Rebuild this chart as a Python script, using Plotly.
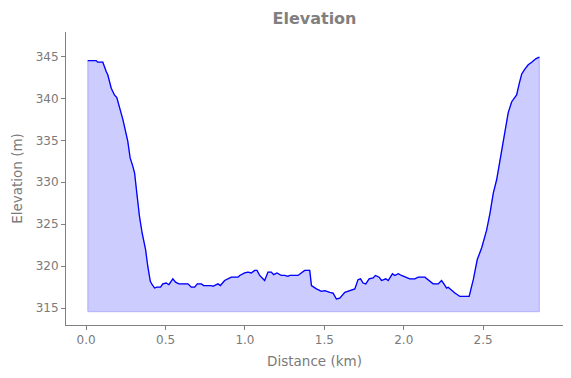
import plotly.graph_objects as go

# Distance along the route (km) and elevation (m)
distance_km = [
    0.010, 0.063, 0.073, 0.105, 0.126, 0.136, 0.158, 0.178, 0.193, 0.210,
    0.231, 0.262, 0.277, 0.294, 0.305, 0.319, 0.336, 0.353, 0.374, 0.388,
    0.404, 0.416, 0.431, 0.445, 0.468, 0.483, 0.504, 0.521, 0.546, 0.563,
    0.584, 0.641, 0.662, 0.683, 0.700, 0.725, 0.740, 0.788, 0.798, 0.830,
    0.845, 0.872, 0.914, 0.956, 0.967, 0.998, 1.019, 1.040, 1.061, 1.076,
    1.093, 1.124, 1.145, 1.166, 1.181, 1.202, 1.229, 1.250, 1.271, 1.282,
    1.334, 1.376, 1.408, 1.419, 1.450, 1.482, 1.503, 1.534, 1.555, 1.576,
    1.597, 1.629, 1.660, 1.692, 1.712, 1.728, 1.744, 1.761, 1.782, 1.807,
    1.822, 1.845, 1.860, 1.887, 1.902, 1.929, 1.944, 1.965, 1.986, 2.038,
    2.070, 2.091, 2.133, 2.154, 2.185, 2.217, 2.238, 2.253, 2.270, 2.280,
    2.301, 2.322, 2.354, 2.412, 2.438, 2.463, 2.491, 2.522, 2.543, 2.564,
    2.585, 2.617, 2.638, 2.658, 2.680, 2.711, 2.728, 2.743, 2.764, 2.784,
    2.806, 2.831, 2.854,
]
elevation_m = [
    344.5, 344.5, 344.3, 344.3, 343.2, 342.8, 341.2, 340.4, 340.1, 339.0,
    337.5, 334.9, 332.9, 331.9, 331.1, 328.7, 325.9, 323.9, 322.0, 320.0,
    318.2, 317.8, 317.4, 317.5, 317.5, 317.9, 318.0, 317.8, 318.5, 318.1,
    317.9, 317.9, 317.5, 317.5, 317.9, 317.9, 317.7, 317.7, 317.6, 317.9,
    317.7, 318.3, 318.7, 318.7, 318.9, 319.2, 319.3, 319.2, 319.5, 319.5,
    318.9, 318.3, 319.3, 319.3, 319.0, 319.2, 318.9, 318.9, 318.8, 318.9,
    318.9, 319.5, 319.5, 317.7, 317.3, 317.0, 317.1, 316.9, 316.8, 316.1,
    316.2, 316.9, 317.1, 317.3, 318.4, 318.5, 318.0, 317.9, 318.5, 318.6,
    318.9, 318.7, 318.3, 318.5, 318.3, 319.1, 318.9, 319.1, 318.9, 318.5,
    318.5, 318.7, 318.7, 318.4, 317.9, 317.9, 318.3, 317.9, 317.4, 317.5,
    317.1, 316.8, 316.4, 316.4, 318.4, 320.8, 322.2, 324.3, 326.3, 328.7,
    330.3, 333.9, 336.3, 338.3, 339.6, 340.4, 341.8, 342.9, 343.5, 344.0,
    344.3, 344.7, 344.9,
]
fill_base_m = 314.6

x_ticks = [0.0, 0.5, 1.0, 1.5, 2.0, 2.5]
y_ticks = [315, 320, 325, 330, 335, 340, 345]

GRAY = "#808080"
TEXT = "#7a7a7a"

fig = go.Figure()

# filled area polygon (line -> baseline)
poly_x = [distance_km[0]] + distance_km + [distance_km[-1], distance_km[0]]
poly_y = [fill_base_m] + elevation_m + [fill_base_m, fill_base_m]
fig.add_trace(go.Scatter(
    x=poly_x, y=poly_y, mode="lines", fill="toself",
    fillcolor="rgba(0,0,255,0.2)",
    line=dict(color="rgba(0,0,255,0.2)", width=1.2),
    hoverinfo="skip", showlegend=False,
))
fig.add_trace(go.Scatter(
    x=distance_km, y=elevation_m, mode="lines",
    line=dict(color="#0000ff", width=1.3),
    showlegend=False,
))

fig.update_layout(
    width=571, height=378,
    margin=dict(l=66, r=8, t=32, b=53),
    paper_bgcolor="white", plot_bgcolor="white",
    font=dict(family="DejaVu Sans", color=TEXT, size=12),
    title=dict(text="<b>Elevation</b>", x=0.5, xref="paper", xanchor="center",
               y=1 - 18 / 378, yref="container", yanchor="middle",
               font=dict(family="DejaVu Sans", size=16, color=GRAY)),
)
fig.update_xaxes(
    range=[-0.127, 3.003], tickvals=x_ticks,
    ticktext=[f"{v:.1f}" for v in x_ticks], automargin=False,
    showgrid=False, zeroline=False, showline=True, linecolor=GRAY, linewidth=1,
    ticks="outside", ticklen=4, tickcolor=GRAY, tickfont=dict(size=12, color=TEXT),
    title=dict(text="Distance (km)", font=dict(size=13.5, color=TEXT), standoff=10),
)
fig.update_yaxes(
    range=[313.0, 347.9], tickvals=y_ticks, automargin=False,
    showgrid=False, zeroline=False, showline=True, linecolor=GRAY, linewidth=1,
    ticks="outside", ticklen=4, tickcolor=GRAY, tickfont=dict(size=12, color=TEXT),
    title=dict(text="Elevation (m)", font=dict(size=13.5, color=TEXT), standoff=9),
)

fig.write_html("out.html", config={"displayModeBar": False},
               post_script="document.body.style.margin='0';document.body.style.overflow='hidden';")
